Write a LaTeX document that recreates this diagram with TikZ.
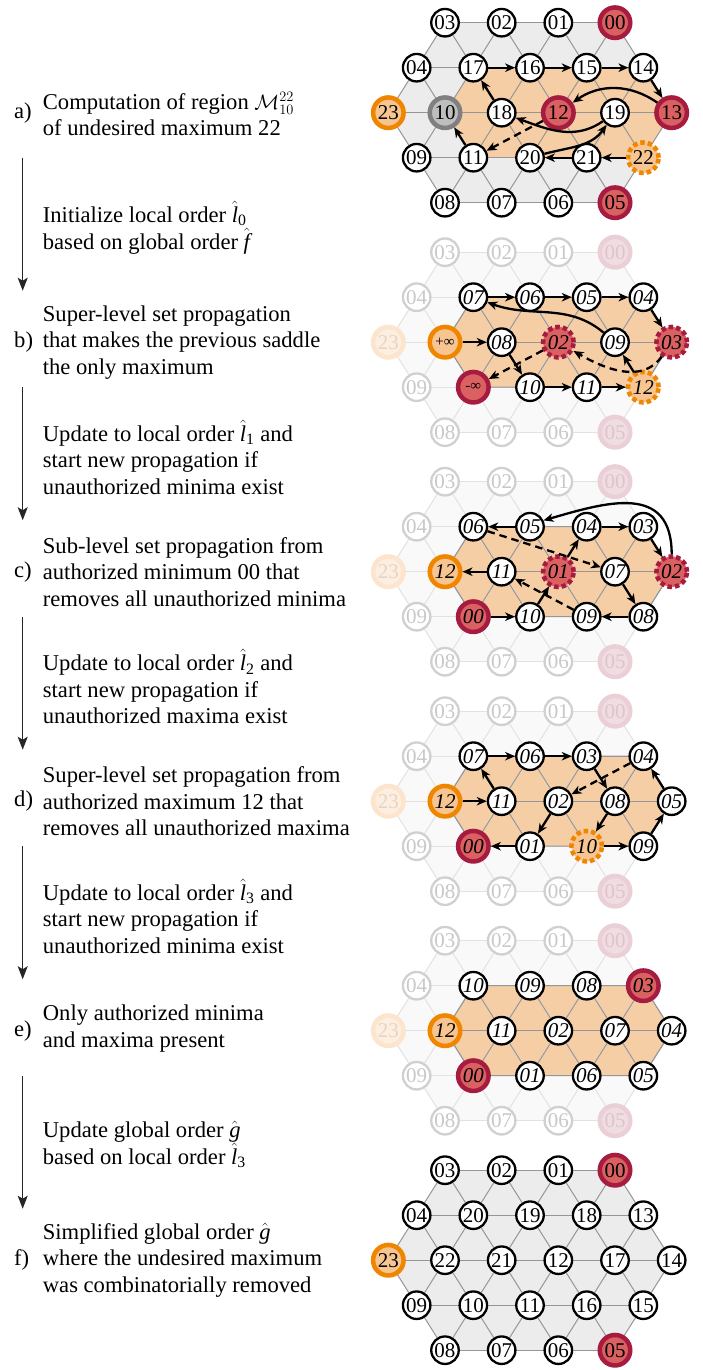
\documentclass[tikz,border=0pt]{standalone}
\usepackage{fontspec}
\setmainfont{Liberation Serif}
\usetikzlibrary{arrows.meta}
\definecolor{crim}{RGB}{166,27,64}
\definecolor{redf}{RGB}{219,96,97}
\definecolor{orb}{RGB}{240,133,0}
\definecolor{orf}{RGB}{246,197,145}
\definecolor{regf}{RGB}{246,206,166}
\definecolor{gyb}{RGB}{128,128,128}
\definecolor{gyf}{RGB}{190,190,190}
\definecolor{hexf}{RGB}{236,236,236}
\definecolor{gridc}{RGB}{150,150,150}
\definecolor{hexff}{RGB}{249,249,249}
\definecolor{gridf}{RGB}{226,226,226}
\definecolor{fdb}{RGB}{208,208,208}
\definecolor{fdt}{RGB}{200,200,200}
\definecolor{fdrb}{RGB}{234,208,214}
\definecolor{fdrf}{RGB}{240,221,226}
\definecolor{fdrt}{RGB}{222,196,203}
\definecolor{fdob}{RGB}{253,228,204}
\definecolor{fdof}{RGB}{252,238,224}
\definecolor{fdot}{RGB}{232,212,195}
\newcommand\nf{\fontsize{21}{21}\selectfont}
\newcommand\nfi{\fontsize{21}{21}\selectfont\itshape}
\newcommand\tf{\fontsize{22.6}{26.5}\selectfont}
\newcommand\hl[1]{$\hat{\textit{l}}_{\mathrm{#1}}$}
\newcommand\hv[1]{$\hat{\textit{#1}}$}
\newcommand\mkcoords{\foreach \r/\n in {0/3,1/4,2/5,3/4,4/3}{\foreach \k in {0,...,\n}{\pgfmathsetmacro\xx{388.33+28.33*abs(\r-2)+56.67*\k}\pgfmathsetmacro\yy{-22.7-45*\r}\coordinate (q-\r-\k) at (\xx,\yy);}}}
\newcommand\gridlines[1]{%
 \foreach \r/\n in {0/2,1/3,2/4,3/3,4/2}{\foreach \k in {0,...,\n}{\pgfmathtruncatemacro\kk{\k+1}\draw[#1] (q-\r-\k) -- (q-\r-\kk);}}%
 \foreach \k in {0,...,3}{\pgfmathtruncatemacro\kk{\k+1}\draw[#1] (q-0-\k) -- (q-1-\k) (q-0-\k) -- (q-1-\kk) (q-4-\k) -- (q-3-\k) (q-4-\k) -- (q-3-\kk);}%
 \foreach \k in {0,...,4}{\pgfmathtruncatemacro\kk{\k+1}\draw[#1] (q-1-\k) -- (q-2-\k) (q-1-\k) -- (q-2-\kk) (q-3-\k) -- (q-2-\k) (q-3-\k) -- (q-2-\kk);}}
\newcommand\hexfill[1]{\fill[#1] (q-0-0) -- (q-0-3) -- (q-2-5) -- (q-4-3) -- (q-4-0) -- (q-2-0) -- cycle;}
\newcommand\regfill{\fill[regf] (q-2-1) -- (q-1-1) -- (q-1-4) -- (q-2-5) -- (q-3-4) -- (q-3-1) -- cycle;}
\newcommand\regclip{\clip (q-2-1) -- (q-1-1) -- (q-1-4) -- (q-2-5) -- (q-3-4) -- (q-3-1) -- cycle;}
\newcommand\regline{\draw[gridc, line width=1pt] (q-2-1) -- (q-1-1) -- (q-1-4) -- (q-2-5) -- (q-3-4) -- (q-3-1) -- cycle;}
\newcommand\fadedbg{\mkcoords\hexfill{hexff}\regfill\gridlines{gridf,line width=1pt}\begin{scope}\regclip\gridlines{gridc,line width=1pt}\end{scope}\regline}
\newcommand\V[5]{\node[#4] (#1-#2-#3) at (q-#2-#3) {#5};}
\newcommand\fring[1]{%
 \V{#1}{0}{0}{fd}{03}\V{#1}{0}{1}{fd}{02}\V{#1}{0}{2}{fd}{01}\V{#1}{0}{3}{fdr}{00}%
 \V{#1}{1}{0}{fd}{04}\V{#1}{2}{0}{fdo}{23}\V{#1}{3}{0}{fd}{09}%
 \V{#1}{4}{0}{fd}{08}\V{#1}{4}{1}{fd}{07}\V{#1}{4}{2}{fd}{06}\V{#1}{4}{3}{fdr}{05}}
\begin{document}
\begin{tikzpicture}[x=1pt,y=1pt,
  arr/.style={line width=2.3pt,-{Stealth[length=10pt,width=8.5pt,inset=3pt]}},
  darr/.style={arr, dash pattern=on 7.5pt off 5pt},
  flow/.style={line width=1.1pt, black!85, -{Stealth[length=13pt,width=10pt,inset=3pt]}},
  nd/.style={circle, draw=black, fill=white, line width=2.3pt, minimum size=27.5pt, inner sep=0pt, font=\nf},
  itl/.style={font=\nfi},
  pinf/.style={font=\fontsize{15}{15}\selectfont},
  rd/.style={nd, draw=crim, fill=redf, line width=4.5pt, minimum size=30.5pt},
  rdd/.style={rd, dash pattern=on 4.5pt off 3pt},
  og/.style={nd, draw=orb, fill=orf, line width=4.5pt, minimum size=30.5pt},
  ogd/.style={og, dash pattern=on 4.5pt off 3pt},
  gy/.style={nd, draw=gyb, fill=gyf, line width=4.5pt, minimum size=30.5pt},
  fd/.style={nd, draw=fdb, text=fdt},
  fdr/.style={rd, draw=fdrb, fill=fdrf, text=fdrt},
  fdo/.style={og, draw=fdob, fill=fdof, text=fdot},
  txt/.style={anchor=west, inner sep=0pt, align=left, font=\tf},
]
\fill[white] (0,0) rectangle (703,-1370);
\useasboundingbox (0,0) rectangle (703,-1370);

% ---------------- panel a
\begin{scope}
\mkcoords\hexfill{hexf}\regfill\gridlines{gridc,line width=1pt}
\V{a}{0}{0}{nd}{03}\V{a}{0}{1}{nd}{02}\V{a}{0}{2}{nd}{01}\V{a}{0}{3}{rd}{00}
\V{a}{1}{0}{nd}{04}\V{a}{1}{1}{nd}{17}\V{a}{1}{2}{nd}{16}\V{a}{1}{3}{nd}{15}\V{a}{1}{4}{nd}{14}
\V{a}{2}{0}{og}{23}\V{a}{2}{1}{gy}{10}\V{a}{2}{2}{nd}{18}\V{a}{2}{3}{rd}{12}\V{a}{2}{4}{nd}{19}\V{a}{2}{5}{rd}{13}
\V{a}{3}{0}{nd}{09}\V{a}{3}{1}{nd}{11}\V{a}{3}{2}{nd}{20}\V{a}{3}{3}{nd}{21}\V{a}{3}{4}{ogd}{22}
\V{a}{4}{0}{nd}{08}\V{a}{4}{1}{nd}{07}\V{a}{4}{2}{nd}{06}\V{a}{4}{3}{rd}{05}
\draw[arr] (a-1-1) -- (a-1-2);
\draw[arr] (a-1-2) -- (a-1-3);
\draw[arr] (a-1-3) -- (a-1-4);
\draw[arr] (a-1-4) -- (a-2-5);
\draw[arr] (a-2-5) to[out=145,in=35] (a-2-3);
\draw[arr] (a-3-4) -- (a-3-3);
\draw[arr] (a-3-3) -- (a-3-2);
\draw[arr] (a-3-2) to[out=15,in=235] (a-2-4);
\draw[arr] (a-2-4) to[out=215,in=-20] (a-2-2);
\draw[arr] (a-2-2) -- (a-1-1);
\draw[arr] (a-3-1) -- (a-2-1);
\draw[darr] (a-2-3) -- (a-3-1);
\node[txt] (la) at (14,-112.7) {a)};
\node[txt] (ta) at (42.7,-114) {Computation of region $\mathcal{M}^{22}_{10}$\\of undesired maximum 22};
\coordinate (fa1) at (22.7,-157.7); \coordinate (fa2) at (22.7,-290.7);
\draw[flow] (fa1) -- (fa2);
\node[txt] (ia) at (42.7,-227.7) {Initialize local order \hl{0}\\based on global order \hv{f}};
\end{scope}

% ---------------- panel b
\begin{scope}[shift={(0,-229.5)}]
\fadedbg
\fring{b}
\V{b}{1}{1}{nd,itl}{07}\V{b}{1}{2}{nd,itl}{06}\V{b}{1}{3}{nd,itl}{05}\V{b}{1}{4}{nd,itl}{04}
\V{b}{2}{1}{og,pinf}{+∞}\V{b}{2}{2}{nd,itl}{08}\V{b}{2}{3}{rdd,itl}{02}\V{b}{2}{4}{nd,itl}{09}\V{b}{2}{5}{rdd,itl}{03}
\V{b}{3}{1}{rd,pinf}{-∞}\V{b}{3}{2}{nd,itl}{10}\V{b}{3}{3}{nd,itl}{11}\V{b}{3}{4}{ogd,itl}{12}
\draw[arr] (b-1-1) -- (b-1-2);
\draw[arr] (b-1-2) -- (b-1-3);
\draw[arr] (b-1-3) -- (b-1-4);
\draw[arr] (b-1-4) -- (b-2-5);
\draw[arr] (b-2-1) -- (b-2-2);
\draw[arr] (b-2-2) -- (b-3-2);
\draw[arr] (b-3-2) -- (b-3-3);
\draw[arr] (b-3-3) -- (b-3-4);
\draw[arr] (b-3-4) -- (b-2-4);
\draw[arr] (b-2-4) to[out=140,in=-20] (b-1-1);
\draw[darr] (b-2-3) -- (b-3-1);
\draw[darr] (b-2-5) to[out=235,in=-30] (b-2-3);
\node[txt] (lb) at (14,-112.7) {b)};
\node[txt] (tb) at (42.7,-112.7) {Super-level set propagation\\that makes the previous saddle\\the only maximum};
\coordinate (fb1) at (22.7,-157.7); \coordinate (fb2) at (22.7,-290.7);
\draw[flow] (fb1) -- (fb2);
\node[txt] (ib) at (42.7,-227.7) {Update to local order \hl{1} and\\start new propagation if\\unauthorized minima exist};
\end{scope}

% ---------------- panel c
\begin{scope}[shift={(0,-459)}]
\fadedbg
\fring{c}
\V{c}{1}{1}{nd,itl}{06}\V{c}{1}{2}{nd,itl}{05}\V{c}{1}{3}{nd,itl}{04}\V{c}{1}{4}{nd,itl}{03}
\V{c}{2}{1}{og,itl}{12}\V{c}{2}{2}{nd,itl}{11}\V{c}{2}{3}{rdd,itl}{01}\V{c}{2}{4}{nd,itl}{07}\V{c}{2}{5}{rdd,itl}{02}
\V{c}{3}{1}{rd,itl}{00}\V{c}{3}{2}{nd,itl}{10}\V{c}{3}{3}{nd,itl}{09}\V{c}{3}{4}{nd,itl}{08}
\draw[arr] (c-1-2) -- (c-1-1);
\draw[arr] (c-1-3) -- (c-1-4);
\draw[arr] (c-1-4) -- (c-2-5);
\draw[arr] (c-2-5.north) .. controls +(0,72) and +(62,18) .. (c-1-2.25);
\draw[arr] (c-2-2) -- (c-2-1);
\draw[arr] (c-3-1) -- (c-3-2);
\draw[arr] (c-3-2) -- (c-2-3);
\draw[arr] (c-2-3) -- (c-1-3);
\draw[arr] (c-2-4) -- (c-3-4);
\draw[arr] (c-3-4) -- (c-3-3);
\draw[darr] (c-3-3) -- (c-2-2);
\draw[darr] (c-1-1) -- (c-2-4);
\node[txt] (lc) at (14,-112.7) {c)};
\node[txt] (tc) at (42.7,-112.7) {Sub-level set propagation from\\authorized minimum 00 that\\removes all unauthorized minima};
\coordinate (fc1) at (22.7,-157.7); \coordinate (fc2) at (22.7,-290.7);
\draw[flow] (fc1) -- (fc2);
\node[txt] (ic) at (42.7,-227.7) {Update to local order \hl{2} and\\start new propagation if\\unauthorized maxima exist};
\end{scope}

% ---------------- panel d
\begin{scope}[shift={(0,-688.5)}]
\fadedbg
\fring{d}
\V{d}{1}{1}{nd,itl}{07}\V{d}{1}{2}{nd,itl}{06}\V{d}{1}{3}{nd,itl}{03}\V{d}{1}{4}{nd,itl}{04}
\V{d}{2}{1}{og,itl}{12}\V{d}{2}{2}{nd,itl}{11}\V{d}{2}{3}{nd,itl}{02}\V{d}{2}{4}{nd,itl}{08}\V{d}{2}{5}{nd,itl}{05}
\V{d}{3}{1}{rd,itl}{00}\V{d}{3}{2}{nd,itl}{01}\V{d}{3}{3}{ogd,itl}{10}\V{d}{3}{4}{nd,itl}{09}
\draw[arr] (d-1-1) -- (d-1-2);
\draw[arr] (d-1-2) -- (d-1-3);
\draw[arr] (d-1-3) -- (d-2-4);
\draw[arr] (d-2-1) -- (d-2-2);
\draw[arr] (d-2-2) -- (d-1-1);
\draw[arr] (d-2-3) -- (d-3-2);
\draw[arr] (d-3-2) -- (d-3-1);
\draw[arr] (d-2-4) -- (d-3-3);
\draw[arr] (d-3-3) -- (d-3-4);
\draw[arr] (d-3-4) -- (d-2-5);
\draw[arr] (d-2-5) -- (d-1-4);
\draw[darr] (d-1-4) -- (d-2-3);
\node[txt] (ld) at (14,-112.7) {d)};
\node[txt] (td) at (42.7,-112.7) {Super-level set propagation from\\authorized maximum 12 that\\removes all unauthorized maxima};
\coordinate (fd1) at (22.7,-157.7); \coordinate (fd2) at (22.7,-290.7);
\draw[flow] (fd1) -- (fd2);
\node[txt] (id) at (42.7,-227.7) {Update to local order \hl{3} and\\start new propagation if\\unauthorized minima exist};
\end{scope}

% ---------------- panel e
\begin{scope}[shift={(0,-918)}]
\fadedbg
\fring{e}
\V{e}{1}{1}{nd,itl}{10}\V{e}{1}{2}{nd,itl}{09}\V{e}{1}{3}{nd,itl}{08}\V{e}{1}{4}{rd,itl}{03}
\V{e}{2}{1}{og,itl}{12}\V{e}{2}{2}{nd,itl}{11}\V{e}{2}{3}{nd,itl}{02}\V{e}{2}{4}{nd,itl}{07}\V{e}{2}{5}{nd,itl}{04}
\V{e}{3}{1}{rd,itl}{00}\V{e}{3}{2}{nd,itl}{01}\V{e}{3}{3}{nd,itl}{06}\V{e}{3}{4}{nd,itl}{05}
\node[txt] (le) at (14,-112.7) {e)};
\node[txt] (te) at (42.7,-110.5) {Only authorized minima\\and maxima present};
\coordinate (fe1) at (22.7,-157.7); \coordinate (fe2) at (22.7,-290.7);
\draw[flow] (fe1) -- (fe2);
\node[txt] (ie) at (42.7,-226.5) {Update global order \hv{g}\\based on local order \hl{3}};
\end{scope}

% ---------------- panel f
\begin{scope}[shift={(0,-1147.5)}]
\mkcoords\hexfill{hexf}\gridlines{gridc,line width=1pt}
\V{f}{0}{0}{nd}{03}\V{f}{0}{1}{nd}{02}\V{f}{0}{2}{nd}{01}\V{f}{0}{3}{rd}{00}
\V{f}{1}{0}{nd}{04}\V{f}{1}{1}{nd}{20}\V{f}{1}{2}{nd}{19}\V{f}{1}{3}{nd}{18}\V{f}{1}{4}{nd}{13}
\V{f}{2}{0}{og}{23}\V{f}{2}{1}{nd}{22}\V{f}{2}{2}{nd}{21}\V{f}{2}{3}{nd}{12}\V{f}{2}{4}{nd}{17}\V{f}{2}{5}{nd}{14}
\V{f}{3}{0}{nd}{09}\V{f}{3}{1}{nd}{10}\V{f}{3}{2}{nd}{11}\V{f}{3}{3}{nd}{16}\V{f}{3}{4}{nd}{15}
\V{f}{4}{0}{nd}{08}\V{f}{4}{1}{nd}{07}\V{f}{4}{2}{nd}{06}\V{f}{4}{3}{rd}{05}
\node[txt] (lf) at (14,-112.7) {f)};
\node[txt] (tf) at (42.7,-112.7) {Simplified global order \hv{g}\\where the undesired maximum\\was combinatorially removed};
\end{scope}
\end{tikzpicture}
\end{document}
